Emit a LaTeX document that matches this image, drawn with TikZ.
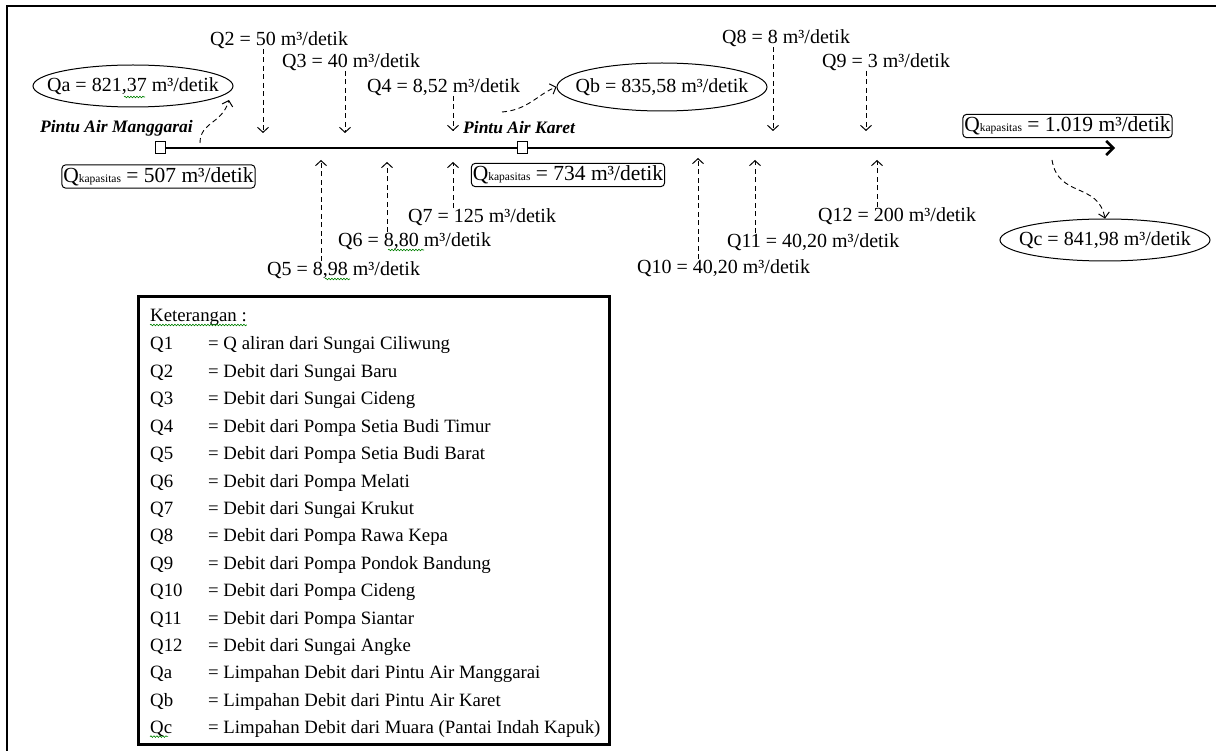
\documentclass[tikz,border=0pt]{standalone}
\usepackage{fontspec}
\setmainfont{Liberation Serif}
\usetikzlibrary{arrows.meta,shapes.geometric,decorations.pathmorphing}
\newcommand{\kap}{Q{\fontsize{11.5}{12}\selectfont kapasitas}}
\begin{document}
\begin{tikzpicture}[x=1pt,y=-1pt,
 txt/.style={font=\fontsize{20}{22}\selectfont, inner sep=0pt},
 leg/.style={font=\fontsize{18.8}{22}\selectfont, inner sep=0pt, anchor=base west},
 pintu/.style={font=\fontsize{17.5}{19}\selectfont\bfseries\itshape, inner sep=0pt},
 flow/.style={line width=0.9pt, dash pattern=on 5pt off 3.5pt, -{Straight Barb[length=5pt,width=11pt,line width=1pt]}},
 kapbox/.style={draw, line width=1pt, rounded corners=4pt, font=\fontsize{21.5}{23}\selectfont, inner xsep=1.5pt, inner ysep=2.5pt},
 ellbox/.style={draw, ellipse, line width=1pt, inner sep=0pt},
 gate/.style={draw, line width=1pt, fill=white, minimum width=10pt, minimum height=12pt, inner sep=0pt},
 squig/.style={green!50!black, line width=0.6pt, decorate, decoration={snake, amplitude=0.8pt, segment length=3pt}}
]
\useasboundingbox (0,0) rectangle (1216,751);
\clip (0,0) rectangle (1216,751);
\draw[line width=2.2pt] (7,6) rectangle (1240,770);

% main channel
\coordinate (mouth) at (1115,148);
\node[gate] (g1) at (160,148) {};
\node[gate] (g2) at (522,148) {};
\draw[line width=2.6pt, -{Straight Barb[length=7pt,width=14pt,line width=2.5pt]}] (g1.east) -- (mouth);
\node[gate] at (g2) {};

% gate labels
\node[pintu, anchor=east] (pm) at (193,128) {Pintu Air Manggarai};
\node[pintu, anchor=west] (pk) at (463,128) {Pintu Air Karet};

% capacity boxes
\node[kapbox] (k1) at (158.5,176.5) {\kap{} = 507 m³/detik};
\node[kapbox] (k2) at (568,175) {\kap{} = 734 m³/detik};
\node[kapbox] (k3) at (1067.5,126) {\kap{} = 1.019 m³/detik};

% overflow ellipses
\node[ellbox, minimum width=200pt, minimum height=42pt] (qa) at (133,86) {};
\node[txt] at (qa) {Qa = 821,37 m³/detik};
\node[ellbox, minimum width=210pt, minimum height=48pt] (qb) at (662,87) {};
\node[txt] at (qb) {Qb = 835,58 m³/detik};
\node[ellbox, minimum width=210pt, minimum height=42pt] (qc) at (1105,240) {};
\node[txt] at (qc) {Qc = 841,98 m³/detik};

\coordinate (sa) at (200,143);
\coordinate (sb) at (502,112);
\coordinate (sc) at (1052,160);
\coordinate (ea) at (229,100);
\draw[flow] (sa) .. controls (200,122) and (222,124) .. (ea);
\draw[flow] (sb) .. controls (528,110) and (538,94) .. (qb.west);
\draw[flow] (sc) .. controls (1058,198) and (1098,182) .. (qc.north);

% spell-check marks as printed
\draw[squig] (124,97) -- (145,97);
\draw[squig] (325,279) -- (350,279);
\draw[squig] (388,250) -- (424,250);

% inflows from above
\node[txt, anchor=west] (q2) at (210,40) {Q2 = 50 m³/detik};
\node[txt, anchor=west] (q3) at (282,62) {Q3 = 40 m³/detik};
\node[txt, anchor=west] (q4) at (367,87) {Q4 = 8,52 m³/detik};
\node[txt, anchor=west] (q8) at (722,38) {Q8 = 8 m³/detik};
\node[txt, anchor=west] (q9) at (822,62) {Q9 = 3 m³/detik};
\coordinate (t2) at (263,133);
\coordinate (t3) at (345,133);
\coordinate (t4) at (453,131);
\coordinate (t8) at (773,131);
\coordinate (t9) at (866,131);
\draw[flow] (q2.south -| t2) -- (t2);
\draw[flow] (q3.south -| t3) -- (t3);
\draw[flow] (q4.south -| t4) -- (t4);
\draw[flow] (q8.south -| t8) -- (t8);
\draw[flow] (q9.south -| t9) -- (t9);

% inflows from below
\node[txt, anchor=west] (q7) at (408,217) {Q7 = 125 m³/detik};
\node[txt, anchor=west] (q6) at (338,241) {Q6 = 8,80 m³/detik};
\node[txt, anchor=west] (q5) at (267,270) {Q5 = 8,98 m³/detik};
\node[txt, anchor=west] (q12) at (818,216) {Q12 = 200 m³/detik};
\node[txt, anchor=west] (q11) at (727,242) {Q11 = 40,20 m³/detik};
\node[txt, anchor=west] (q10) at (637,268) {Q10 = 40,20 m³/detik};
\coordinate (t5) at (321,160);
\coordinate (t6) at (387,162);
\coordinate (t7) at (453,162);
\coordinate (t10) at (698,158);
\coordinate (t11) at (755,160);
\coordinate (t12) at (877,160);
\draw[flow] (q5.north -| t5) -- (t5);
\draw[flow] (q6.north -| t6) -- (t6);
\draw[flow] (q7.north -| t7) -- (t7);
\draw[flow] (q10.north -| t10) -- (t10);
\draw[flow] (q11.north -| t11) -- (t11);
\draw[flow] (q12.north -| t12) -- (t12);

% legend
\node[draw, line width=3pt, minimum width=471pt, minimum height=448pt, anchor=north west, inner sep=0pt] (legend) at (137,295) {};
\node[leg] (ket) at (150,322) {Keterangan :};
\draw[squig] (ket.base west) ++(0,3) -- (ket.base east |- 0,325);
\foreach \k/\v [count=\i from 0] in {
 Q1/= Q aliran dari Sungai Ciliwung,
 Q2/= Debit dari Sungai Baru,
 Q3/= Debit dari Sungai Cideng,
 Q4/= Debit dari Pompa Setia Budi Timur,
 Q5/= Debit dari Pompa Setia Budi Barat,
 Q6/= Debit dari Pompa Melati,
 Q7/= Debit dari Sungai Krukut,
 Q8/= Debit dari Pompa Rawa Kepa,
 Q9/= Debit dari Pompa Pondok Bandung,
 Q10/= Debit dari Pompa Cideng,
 Q11/= Debit dari Pompa Siantar,
 Q12/= Debit dari Sungai Angke,
 Qa/= Limpahan Debit dari Pintu Air Manggarai,
 Qb/= Limpahan Debit dari Pintu Air Karet,
 Qc/= Limpahan Debit dari Muara (Pantai Indah Kapuk)}{
 \node[leg] (lk\i) at (150,350+27.4*\i) {\k};
 \node[leg] (lv\i) at (208,350+27.4*\i) {\v};
}
\draw[squig] (lk14.base west) ++(0,3) -- ++(18,0);
\end{tikzpicture}
\end{document}
